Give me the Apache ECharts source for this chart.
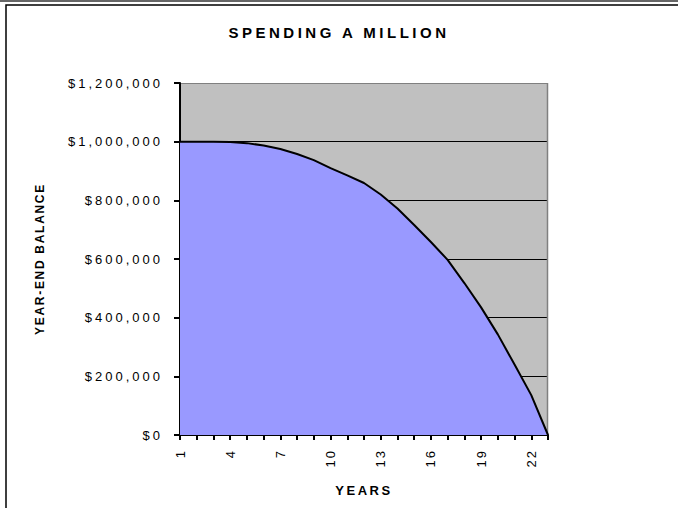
<!DOCTYPE html>
<html>
<head>
<meta charset="utf-8">
<script src="https://cdn.jsdelivr.net/npm/echarts@6/dist/echarts.min.js"></script>
<style>
  html, body { margin: 0; padding: 0; background: #fff; }
  #chart { width: 678px; height: 508px; }
</style>
</head>
<body>
<div id="chart"></div>
<script>
    // year numbers on the x axis
    var years = [];
    for (var y = 1; y <= 23; y++) years.push(String(y));

    // balance at year end
    var balance = [1000000, 1000000, 1000000, 999000, 995000, 987000, 975000, 958000,
        937000, 910000, 885000, 859000, 820000, 772000, 716000, 658000, 597000,
        518000, 435000, 343000, 240000, 136000, 0];

    var yTicks = [0, 200000, 400000, 600000, 800000, 1000000, 1200000];

    function money(v) {
        return '$' + v.toLocaleString('en-US');
    }

    var chart = echarts.init(document.getElementById('chart'), null, { renderer: 'svg' });
    var option = {
        animation: false,
        backgroundColor: '#fff',
        textStyle: { fontFamily: 'Liberation Sans, Arial, sans-serif' },
        title: {
            text: 'SPENDING A MILLION',
            left: 'center',
            top: 20,
            textStyle: { fontSize: 15, fontWeight: 'bold', color: '#000', fontFamily: 'Liberation Sans' }
        },
        graphic: [
            { type: 'rect', shape: { x: 0, y: 0, width: 678, height: 2 }, style: { fill: '#666' }, z: 0 },
            { type: 'rect', shape: { x: 6, y: 5, width: 700, height: 520 }, style: { fill: 'none', stroke: '#000', lineWidth: 1.5 }, z: 0 },
            { type: 'rect', shape: { x: 180, y: 83, width: 368, height: 352 }, style: { fill: '#c0c0c0' }, z: -1 },
            { type: 'line', shape: { x1: 547.5, y1: 83, x2: 547.5, y2: 435 }, style: { stroke: '#808080', lineWidth: 1.5 }, z: 1 }
        ],
        grid: { left: 180, right: 130, top: 83, bottom: 73, containLabel: false },
        xAxis: {
            type: 'category',
            data: years,
            boundaryGap: false,
            name: 'YEARS',
            nameLocation: 'middle',
            nameGap: 49,
            nameTextStyle: { fontSize: 13, fontWeight: 'bold', color: '#000' },
            axisLine: { lineStyle: { color: '#000', width: 2 } },
            axisTick: { show: true, interval: 0, length: 5, lineStyle: { color: '#000', width: 2 } },
            axisLabel: { interval: 2, rotate: 90, fontSize: 13, color: '#000', margin: 14 },
            splitLine: { show: false }
        },
        yAxis: {
            type: 'value',
            min: yTicks[0],
            max: yTicks[yTicks.length - 1],
            interval: 200000,
            name: 'YEAR-END BALANCE',
            nameLocation: 'middle',
            nameGap: 134,
            nameTextStyle: { fontSize: 12, fontWeight: 'bold', color: '#000' },
            axisLine: { show: true, lineStyle: { color: '#000', width: 2 } },
            axisTick: { show: true, length: 6, lineStyle: { color: '#000', width: 2 } },
            axisLabel: { fontSize: 13, color: '#000', margin: 17, formatter: money },
            splitLine: {
                show: true,
                lineStyle: { color: ['#000', '#000', '#000', '#000', '#000', '#000', '#808080'], width: 1 }
            }
        },
        series: [{
            type: 'line',
            data: balance,
            symbol: 'none',
            smooth: false,
            lineStyle: { color: '#000', width: 2 },
            areaStyle: { color: '#9999ff', opacity: 1 },
            z: 3
        }]
    };
    chart.setOption(option);

    // the original text is spaced out, svg text takes css letter-spacing
    function spaceText() {
        var texts = document.querySelectorAll('#chart svg text');
        texts.forEach(function (t) {
            var s = t.textContent;
            var sp = '3px';
            if (s == 'SPENDING A MILLION') sp = '3.5px';
            else if (s == 'YEAR-END BALANCE') sp = '1.7px';
            else if (s == 'YEARS') sp = '2.5px';
            else if (s.charAt(0) != '$') sp = '2px';
            t.style.letterSpacing = sp;
        });
    }
    spaceText();
    chart.on('finished', spaceText);
</script>
</body>
</html>
